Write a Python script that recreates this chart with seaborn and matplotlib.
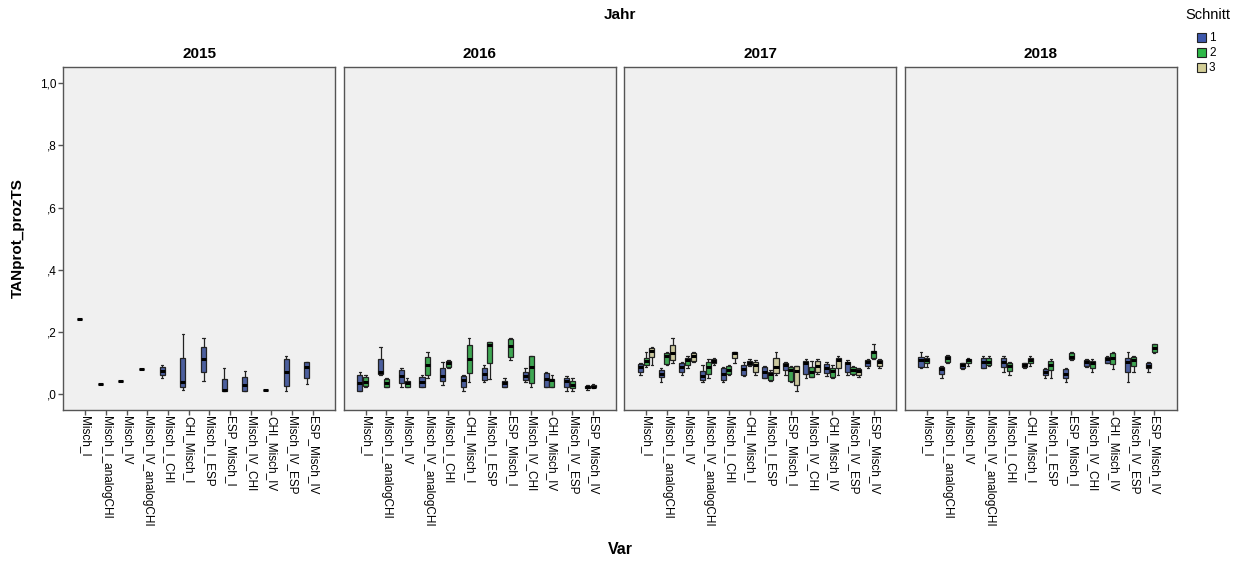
import numpy as np
import pandas as pd
import matplotlib
matplotlib.use('Agg')
import matplotlib.pyplot as plt
import seaborn as sns
from matplotlib.patches import Rectangle

variablen = ['Misch_I', 'Misch_I_analogCHI', 'Misch_IV', 'Misch_IV_analogCHI',
             'Misch_I_CHI', 'CHI_Misch_I', 'Misch_I_ESP', 'ESP_Misch_I',
             'Misch_IV_CHI', 'CHI_Misch_IV', 'Misch_IV_ESP', 'ESP_Misch_IV']
jahre = [2015, 2016, 2017, 2018]
schnitte = ['1', '2', '3']
farben = {'1': '#3E58AC', '2': '#2EB848', '3': '#D3CE97'}

# Fuenf-Punkte-Zusammenfassung je Box (min, q1, median, q3, max)
s2015_1 = [[0.242, 0.242, 0.242, 0.242, 0.242], [0.033, 0.033, 0.033, 0.033, 0.033],
           [0.044, 0.044, 0.044, 0.044, 0.044], [0.082, 0.082, 0.082, 0.082, 0.082],
           [0.053, 0.062, 0.076, 0.089, 0.094], [0.014, 0.022, 0.039, 0.116, 0.194],
           [0.043, 0.073, 0.112, 0.153, 0.182], [0.011, 0.011, 0.014, 0.048, 0.084],
           [0.012, 0.012, 0.029, 0.057, 0.075], [0.014, 0.014, 0.014, 0.014, 0.014],
           [0.012, 0.027, 0.073, 0.112, 0.123], [0.033, 0.051, 0.089, 0.104, 0.104]]
s2016_1 = [[0.012, 0.012, 0.035, 0.062, 0.073], [0.062, 0.065, 0.073, 0.112, 0.153],
           [0.022, 0.037, 0.059, 0.078, 0.084], [0.022, 0.022, 0.041, 0.057, 0.062],
           [0.030, 0.044, 0.059, 0.084, 0.105], [0.012, 0.022, 0.046, 0.059, 0.062],
           [0.041, 0.046, 0.065, 0.084, 0.094], [0.022, 0.022, 0.035, 0.044, 0.051],
           [0.041, 0.046, 0.059, 0.073, 0.084], [0.022, 0.022, 0.048, 0.068, 0.073],
           [0.012, 0.022, 0.044, 0.051, 0.059], [0.014, 0.020, 0.022, 0.027, 0.030]]
s2016_2 = [[0.022, 0.027, 0.041, 0.057, 0.062], [0.022, 0.022, 0.035, 0.048, 0.051],
           [0.022, 0.024, 0.035, 0.044, 0.051], [0.051, 0.062, 0.094, 0.121, 0.135],
           [0.084, 0.087, 0.100, 0.107, 0.110], [0.041, 0.068, 0.112, 0.158, 0.182],
           [0.050, 0.102, 0.158, 0.169, 0.169], [0.110, 0.121, 0.155, 0.177, 0.182],
           [0.022, 0.037, 0.089, 0.123, 0.123], [0.022, 0.022, 0.046, 0.048, 0.062],
           [0.012, 0.020, 0.030, 0.044, 0.051], [0.020, 0.022, 0.024, 0.030, 0.033]]
s2017_1 = [[0.062, 0.073, 0.089, 0.096, 0.102], [0.041, 0.056, 0.065, 0.078, 0.084],
           [0.062, 0.073, 0.089, 0.100, 0.105], [0.041, 0.046, 0.059, 0.076, 0.094],
           [0.041, 0.046, 0.065, 0.084, 0.089], [0.059, 0.062, 0.080, 0.094, 0.105],
           [0.051, 0.051, 0.073, 0.089, 0.091], [0.062, 0.078, 0.094, 0.102, 0.105],
           [0.051, 0.065, 0.102, 0.107, 0.112], [0.059, 0.068, 0.084, 0.096, 0.105],
           [0.062, 0.073, 0.102, 0.105, 0.110], [0.084, 0.091, 0.105, 0.110, 0.112]]
s2017_2 = [[0.089, 0.094, 0.107, 0.116, 0.135], [0.094, 0.096, 0.123, 0.134, 0.135],
           [0.084, 0.094, 0.110, 0.118, 0.123], [0.051, 0.065, 0.089, 0.105, 0.112],
           [0.062, 0.065, 0.078, 0.091, 0.094], [0.091, 0.094, 0.102, 0.107, 0.112],
           [0.044, 0.046, 0.065, 0.073, 0.078], [0.041, 0.044, 0.078, 0.089, 0.091],
           [0.056, 0.056, 0.073, 0.089, 0.107], [0.051, 0.056, 0.076, 0.084, 0.094],
           [0.062, 0.065, 0.078, 0.089, 0.091], [0.112, 0.118, 0.137, 0.140, 0.161]]
s2017_3 = [[0.094, 0.121, 0.140, 0.148, 0.153], [0.102, 0.110, 0.134, 0.158, 0.182],
           [0.105, 0.107, 0.123, 0.132, 0.135], [0.094, 0.100, 0.107, 0.112, 0.116],
           [0.100, 0.118, 0.134, 0.135, 0.137], [0.062, 0.073, 0.094, 0.105, 0.110],
           [0.062, 0.068, 0.089, 0.116, 0.135], [0.012, 0.030, 0.076, 0.091, 0.091],
           [0.065, 0.073, 0.091, 0.107, 0.112], [0.062, 0.084, 0.110, 0.118, 0.123],
           [0.057, 0.062, 0.076, 0.080, 0.084], [0.084, 0.091, 0.105, 0.110, 0.112]]
s2018_1 = [[0.084, 0.089, 0.110, 0.121, 0.135], [0.051, 0.065, 0.080, 0.089, 0.091],
           [0.080, 0.084, 0.094, 0.100, 0.102], [0.084, 0.084, 0.105, 0.118, 0.123],
           [0.073, 0.089, 0.105, 0.116, 0.123], [0.084, 0.089, 0.094, 0.100, 0.102],
           [0.051, 0.062, 0.073, 0.080, 0.084], [0.041, 0.051, 0.065, 0.080, 0.084],
           [0.089, 0.091, 0.105, 0.110, 0.112], [0.100, 0.102, 0.112, 0.121, 0.123],
           [0.041, 0.070, 0.105, 0.116, 0.135], [0.070, 0.084, 0.091, 0.100, 0.105]]
s2018_2 = [[0.089, 0.100, 0.110, 0.118, 0.123], [0.102, 0.105, 0.116, 0.123, 0.126],
           [0.091, 0.100, 0.110, 0.112, 0.116], [0.091, 0.094, 0.105, 0.116, 0.123],
           [0.062, 0.076, 0.091, 0.102, 0.105], [0.091, 0.100, 0.110, 0.118, 0.123],
           [0.051, 0.078, 0.094, 0.107, 0.112], [0.110, 0.112, 0.121, 0.134, 0.135],
           [0.070, 0.084, 0.100, 0.107, 0.112], [0.080, 0.096, 0.118, 0.132, 0.135],
           [0.070, 0.091, 0.110, 0.121, 0.123], [0.134, 0.135, 0.148, 0.160, 0.161]]

boxen = {(2015, '1'): s2015_1,
         (2016, '1'): s2016_1, (2016, '2'): s2016_2,
         (2017, '1'): s2017_1, (2017, '2'): s2017_2, (2017, '3'): s2017_3,
         (2018, '1'): s2018_1, (2018, '2'): s2018_2}

zeilen = []
for (jahr, schnitt), werte in boxen.items():
    for var, fuenf in zip(variablen, werte):
        for v in fuenf:
            zeilen.append({'Jahr': jahr, 'Schnitt': schnitt, 'Var': var, 'TANprot_prozTS': v})
df = pd.DataFrame(zeilen)

sns.set_theme(style='white')
plt.rcParams['font.family'] = ['Liberation Sans', 'DejaVu Sans']
plt.rcParams['text.color'] = 'black'
plt.rcParams['xtick.labelcolor'] = 'black'
plt.rcParams['ytick.labelcolor'] = 'black'

fig, axes = plt.subplots(1, 4, figsize=(12.38, 5.63), dpi=100, sharey=True)
fig.subplots_adjust(left=0.0509, right=0.9507, top=0.8815, bottom=0.2718, wspace=0.03)

for ax, jahr in zip(axes, jahre):
    sub = df[df['Jahr'] == jahr]
    sns.boxplot(data=sub, x='Var', y='TANprot_prozTS', hue='Schnitt', order=variablen,
                hue_order=schnitte, palette=farben, dodge=True, whis=(0, 100),
                width=0.83, gap=0.12, linewidth=0.9, linecolor='#222222',
                medianprops=dict(color='black', linewidth=2.2),
                legend=False, ax=ax)
    ax.set_facecolor('#F0F0F0')
    for sp in ax.spines.values():
        sp.set_visible(True)
        sp.set_color('#555555')
        sp.set_linewidth(1.0)
    ax.set_xlim(-1.07, 12.1)
    ax.set_ylim(-0.0505, 1.053)
    ax.set_title(str(jahr), fontweight='bold', fontsize=11, pad=6, color='black')
    ax.set_xlabel('')
    ax.set_ylabel('')
    ax.tick_params(axis='x', rotation=270, length=3.6, width=1, color='#555555',
                   labelsize=8.5, pad=0.6, bottom=True, labelcolor='black')
    ax.tick_params(axis='y', length=3.6, width=1, color='#555555', labelsize=8.5,
                   left=(jahr == 2015), pad=1, labelcolor='black')
    ax.grid(False)

axes[0].set_yticks([0, 0.2, 0.4, 0.6, 0.8, 1.0])
axes[0].set_yticklabels([',0', ',2', ',4', ',6', ',8', '1,0'])

fig.text(0.5008, 1 - 15 / 563, 'Jahr', ha='center', va='center', fontweight='bold', fontsize=11)
fig.text(0.5008, 1 - 549 / 563, 'Var', ha='center', va='center', fontweight='bold', fontsize=11.5)
fig.text(18 / 1238, 1 - 238 / 563, 'TANprot_prozTS', ha='center', va='center',
         rotation=90, fontweight='bold', fontsize=11)

# Legende "Schnitt" oben rechts
W, H = 1238, 563
fig.text(1208 / W, 1 - 15 / H, 'Schnitt', ha='center', va='center', fontsize=10.5)
for i, s in enumerate(schnitte):
    y_top = 33.3 + i * 15
    fig.add_artist(Rectangle((1197 / W, 1 - (y_top + 8.4) / H), 8.5 / W, 8.4 / H,
                             transform=fig.transFigure, facecolor=farben[s],
                             edgecolor='#222222', linewidth=0.8))
    fig.text(1209 / W, 1 - (y_top + 4.6) / H, s, ha='left', va='center', fontsize=8.5)

fig.savefig('out.png', dpi=100)
